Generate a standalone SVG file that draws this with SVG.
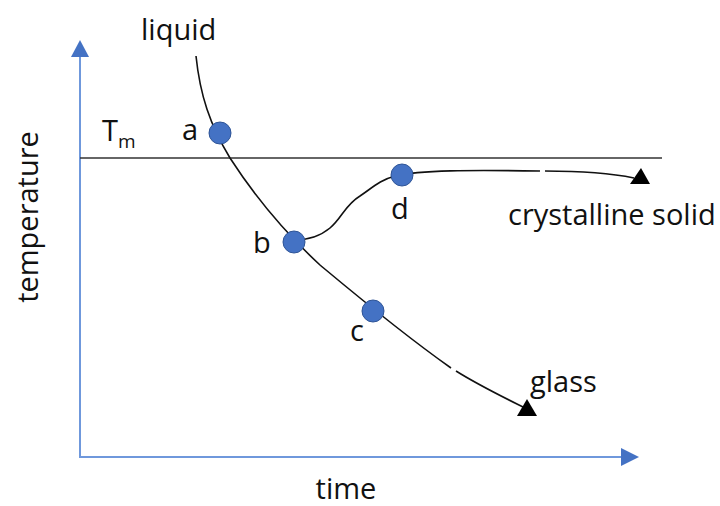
<svg xmlns="http://www.w3.org/2000/svg" width="720" height="506" viewBox="0 0 720 506">
<style>
text{font-family:"Open Sans","Liberation Sans",sans-serif;font-size:29px;fill:#111}
.curve{fill:none;stroke:#111;stroke-width:1.6}
.dot{fill:#4472C4;stroke:#2F5597;stroke-width:1}
.axis{stroke:#6F98DC;stroke-width:2;fill:none}
</style>
<rect width="720" height="506" fill="#fff"/>
<g id="axes">
<line class="axis" x1="80" y1="458" x2="80" y2="56"/>
<polygon points="80,40 71,57 89,57" fill="#4472C4"/>
<line class="axis" x1="80" y1="457" x2="622" y2="457"/>
<polygon points="639,457 621,448 621,466" fill="#4472C4"/>
<line x1="80" y1="158" x2="662" y2="158" stroke="#333" stroke-width="1.3"/>
</g>
<g id="connectors">
<path class="curve" d="M196,56 C200,95 210,125 230,158 C252,192 280,228 320,265 C350,290 400,332 451,368"/>
<path class="curve" d="M456,371 C480,386 505,398 525,408"/>
<polygon points="517,416 537,416 527,399" fill="#000"/>
<path class="curve" d="M294,240 C305,240 318,238 330,228 C342,218 345,205 360,196 C372,188 380,180 395,176 C420,170 470,170 540,171"/>
<path class="curve" d="M545,171 C585,171 610,173 634,178"/>
<polygon points="630,184 650,184 641,168" fill="#000"/>
</g>
<g id="node-a"><circle class="dot" cx="220" cy="133" r="11"/><text x="182" y="140">a</text></g>
<g id="node-b"><circle class="dot" cx="294" cy="242" r="11"/><text x="253" y="253">b</text></g>
<g id="node-c"><circle class="dot" cx="373" cy="311" r="11"/><text x="350" y="341">c</text></g>
<g id="node-d"><circle class="dot" cx="402" cy="175" r="11"/><text x="391" y="219">d</text></g>
<g id="labels">
<text x="141" y="40">liquid</text>
<text x="102" y="141">T<tspan font-size="19" dy="7">m</tspan></text>
<text x="508" y="225">crystalline solid</text>
<text x="530" y="392">glass</text>
<text x="346" y="499" text-anchor="middle">time</text>
<text transform="translate(38,217) rotate(-90)" text-anchor="middle">temperature</text>
</g>
</svg>
